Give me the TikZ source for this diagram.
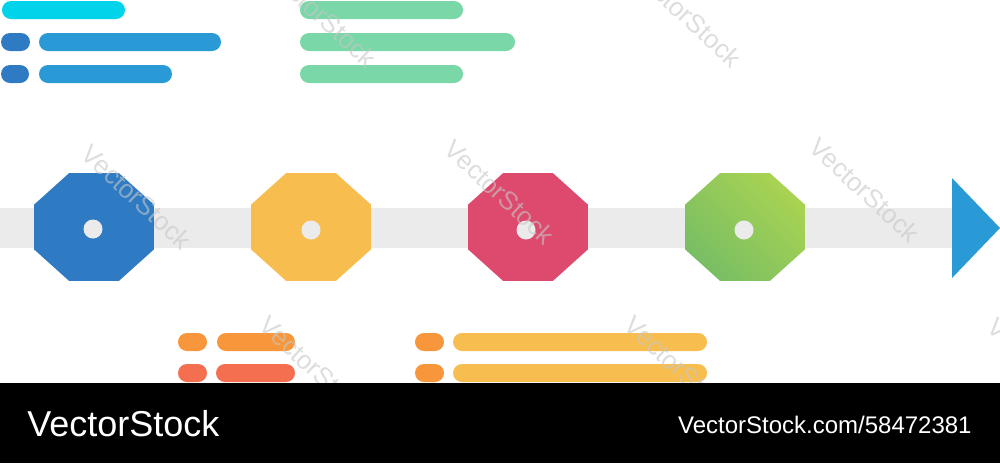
\documentclass[tikz,border=0pt]{standalone}
\usepackage{fontspec}
\setmainfont{Liberation Sans}
\usetikzlibrary{shapes.misc, shapes.geometric, positioning}

\definecolor{tlblue}{HTML}{2E7BC4}
\definecolor{tlsky}{HTML}{2A9AD6}
\definecolor{tlcyan}{HTML}{00D3EA}
\definecolor{tlmint}{HTML}{79D7A8}
\definecolor{tlyellow}{HTML}{F8BD4F}
\definecolor{tlred}{HTML}{DD4A6E}
\definecolor{tlgreenA}{HTML}{78BE64}
\definecolor{tlgreenB}{HTML}{A9D352}
\definecolor{tlorange}{HTML}{F7963B}
\definecolor{tlcoral}{HTML}{F36F4F}
\definecolor{tltrack}{HTML}{EBEBEB}

\tikzset{
  stop/.style={regular polygon, regular polygon sides=8, minimum size=64.9pt,
    inner sep=0pt, yscale=0.9, transform shape},
  hole/.style={circle, fill=tltrack, minimum size=9.5pt, inner sep=0pt},
  bar/.style={rounded rectangle, minimum height=9pt, inner sep=0pt},
  wmark/.style={rotate=-43, text=black!22, opacity=0.6, inner sep=0pt,
    font=\fontsize{13}{13}\selectfont}
}

\begin{document}
\begin{tikzpicture}[x=0.5pt, y=-0.5pt]
    \useasboundingbox (0, 0) rectangle (1000, 463);
    \clip (0, 0) rectangle (1000, 463);

    \node[fill=tltrack, minimum width=477.5pt, minimum height=20pt, inner sep=0pt,
          anchor=west] (track) at (0, 228) {};
    \fill[tlsky] (952, 178) -- (1000, 228) -- (952, 278) -- cycle;

    \node[stop, fill=tlblue] (s1) at (94, 227) {};
    \node[stop, fill=tlyellow] (s2) at (311, 227) {};
    \node[stop, fill=tlred] (s3) at (528, 227) {};
    \node[stop, bottom color=tlgreenA, top color=tlgreenB, shading angle=-45] (s4) at (745, 227) {};

    \node[hole] (h1) at (93, 229) {};
    \node[hole] (h2) at (311, 230) {};
    \node[hole] (h3) at (526, 230) {};
    \node[hole] (h4) at (744, 230) {};

    \node[bar, fill=tlcyan, minimum width=61.5pt] (t0) at (63.5, 10) {};
    \node[bar, fill=tlblue, minimum width=14.5pt] (t1) at (15.5, 42) {};
    \node[bar, fill=tlsky, minimum width=91pt] (t2) at (130, 42) {};
    \node[bar, fill=tlblue, minimum width=14pt] (t3) at (15, 74) {};
    \node[bar, fill=tlsky, minimum width=66.5pt] (t4) at (105.5, 74) {};

    \node[bar, fill=tlmint, minimum width=81.5pt] (g1) at (381.5, 10) {};
    \node[bar, fill=tlmint, minimum width=107.5pt] (g2) at (407.5, 42) {};
    \node[bar, fill=tlmint, minimum width=81.5pt] (g3) at (381.5, 74) {};

    \node[bar, fill=tlorange, minimum width=14.5pt] (o1) at (192.5, 342) {};
    \node[bar, fill=tlorange, minimum width=39pt] (o2) at (256, 342) {};
    \node[bar, fill=tlcoral, minimum width=14.5pt] (o3) at (192.5, 373) {};
    \node[bar, fill=tlcoral, minimum width=39.5pt] (o4) at (255.5, 373) {};

    \node[bar, fill=tlorange, minimum width=14.5pt] (y1) at (429.5, 342) {};
    \node[bar, fill=tlyellow, minimum width=127pt] (y2) at (580, 342) {};
    \node[bar, fill=tlorange, minimum width=14.5pt] (y3) at (429.5, 373) {};
    \node[bar, fill=tlyellow, minimum width=127pt] (y4) at (580, 373) {};

    \node[wmark] (w1) at (137, 197) {VectorStock};
    \node[wmark] (w2) at (500, 192) {VectorStock};
    \node[wmark] (w3) at (865, 190) {VectorStock};
    \node[wmark] (w4) at (322, 15) {VectorStock};
    \node[wmark] (w5) at (687, 15) {VectorStock};
    \node[wmark] (w6) at (315, 368) {VectorStock};
    \node[wmark] (w7) at (680, 368) {VectorStock};
    \node[wmark] (w8) at (1043, 370) {VectorStock};

    \fill[black] (0, 383) rectangle (1000, 463);
    \node[anchor=base west, inner sep=0pt, text=white,
          font=\fontsize{18}{18}\selectfont] (brand) at (27, 436) {VectorStock};
    \node[anchor=base east, inner sep=0pt, text=white,
          font=\fontsize{12}{12}\selectfont] (ref) at (972, 433) {VectorStock.com/58472381};
\end{tikzpicture}
\end{document}
